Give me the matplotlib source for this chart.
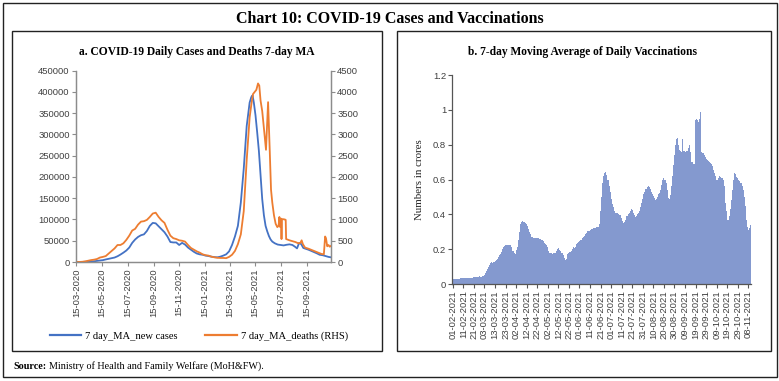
import numpy as np
import pandas as pd
import matplotlib
matplotlib.use('Agg')
import matplotlib.pyplot as plt
from matplotlib.patches import Rectangle

# ---- panel a: 7-day MA of new cases and deaths (weekly points, Sundays from 15-03-2020)
week_start = '2020-03-15'
cases_weekly = [100, 60, 150, 500, 850, 1300, 1700, 2600, 3500, 4300,
                6000, 7500, 9000, 10500, 13500, 17500, 22000, 27000, 34000, 45000,
                53000, 59000, 63000, 65000, 73000, 85000, 92000, 91000, 84000, 77000,
                70000, 60000, 47000, 46000, 46000, 40000, 45000, 41000, 34000, 29000,
                24000, 20000, 18000, 17000, 15000, 14000, 12500, 11500, 11000, 12500,
                15000, 18000, 25000, 40000, 60000, 85000, 140000, 220000, 320000, 375000]
deaths_weekly = [0, 1, 5, 15, 30, 45, 55, 70, 105, 120,
                 140, 200, 260, 320, 400, 400, 440, 520, 620, 740,
                 780, 880, 950, 960, 990, 1060, 1140, 1160, 1060, 980,
                 920, 760, 620, 560, 540, 510, 500, 480, 400, 330,
                 290, 250, 220, 180, 160, 150, 125, 110, 100, 95,
                 95, 90, 120, 170, 260, 420, 650, 1200, 2400, 3400]

# later period read at finer spacing
cases_tail_dates = ['2021-05-06', '2021-05-09', '2021-05-12', '2021-05-16', '2021-05-20',
                    '2021-05-24', '2021-05-28', '2021-06-01', '2021-06-05', '2021-06-09',
                    '2021-06-13', '2021-06-17', '2021-06-21', '2021-06-25', '2021-07-01',
                    '2021-07-08', '2021-07-15', '2021-07-22', '2021-07-29', '2021-08-05',
                    '2021-08-12', '2021-08-18', '2021-08-23', '2021-08-28', '2021-09-02',
                    '2021-09-07', '2021-09-13', '2021-09-19', '2021-09-25', '2021-10-02',
                    '2021-10-09', '2021-10-16', '2021-10-23', '2021-10-30', '2021-11-06',
                    '2021-11-12']
cases_tail = [388000, 392000, 375000, 345000, 305000,
              262000, 205000, 148000, 110000, 85000,
              72000, 61000, 53000, 48000, 44000,
              41000, 40000, 39000, 40500, 41500,
              40000, 36000, 32000, 45000, 42000,
              33000, 31000, 29000, 26500, 23500,
              20500, 17000, 16000, 14000, 12000,
              11000]

deaths_tail_dates = ['2021-05-06', '2021-05-10', '2021-05-14', '2021-05-18', '2021-05-22',
                     '2021-05-25', '2021-05-28', '2021-06-01', '2021-06-05', '2021-06-10',
                     '2021-06-15', '2021-06-19', '2021-06-22', '2021-06-25', '2021-06-29',
                     '2021-07-03', '2021-07-07', '2021-07-10', '2021-07-12', '2021-07-14',
                     '2021-07-16', '2021-07-17', '2021-07-18', '2021-07-19', '2021-07-25',
                     '2021-07-27', '2021-07-28', '2021-08-05', '2021-08-12', '2021-08-19',
                     '2021-08-26', '2021-08-31', '2021-09-03', '2021-09-06', '2021-09-11',
                     '2021-09-20', '2021-09-30', '2021-10-10', '2021-10-20', '2021-10-26',
                     '2021-10-29', '2021-10-31', '2021-11-03', '2021-11-06', '2021-11-09',
                     '2021-11-12']
deaths_tail = [3700, 3950, 4000, 4050, 4200,
               4150, 3800, 3550, 3150, 2640,
               3760, 2600, 1700, 1400, 1100,
               900, 820, 850, 1060, 820,
               1020, 540, 1000, 1010, 1000,
               990, 540, 510, 490, 470,
               440, 450, 510, 420, 340,
               310, 270, 230, 190, 180,
               600, 560, 370, 400, 360,
               380]

# ---- panel b: 7-day MA of daily vaccinations (crore), daily from 01-02-2021
vacc_start = '2021-02-01'
vacc = [0.029, 0.029, 0.030, 0.030, 0.031, 0.030, 0.029, 0.032, 0.034, 0.034,
        0.035, 0.035, 0.034, 0.035, 0.036, 0.035, 0.034, 0.033, 0.034, 0.036,
        0.038, 0.040, 0.041, 0.042, 0.043, 0.044, 0.043, 0.042, 0.044, 0.046,
        0.052, 0.062, 0.072, 0.085, 0.098, 0.110, 0.120, 0.125, 0.122, 0.126,
        0.130, 0.135, 0.145, 0.155, 0.165, 0.172, 0.185, 0.200, 0.212, 0.218,
        0.222, 0.225, 0.226, 0.224, 0.222, 0.223, 0.210, 0.190, 0.178, 0.175,
        0.195, 0.215, 0.250, 0.300, 0.345, 0.356, 0.360, 0.358, 0.355, 0.352,
        0.345, 0.332, 0.315, 0.300, 0.285, 0.272, 0.265, 0.262, 0.263, 0.265,
        0.264, 0.262, 0.260, 0.258, 0.255, 0.250, 0.245, 0.238, 0.232, 0.225,
        0.210, 0.192, 0.180, 0.176, 0.175, 0.178, 0.176, 0.180, 0.190, 0.200,
        0.205, 0.198, 0.190, 0.180, 0.176, 0.165, 0.150, 0.138, 0.142, 0.175,
        0.180, 0.182, 0.190, 0.200, 0.212, 0.208, 0.215, 0.228, 0.237, 0.240,
        0.245, 0.250, 0.255, 0.262, 0.268, 0.275, 0.285, 0.295, 0.302, 0.305,
        0.310, 0.315, 0.318, 0.320, 0.322, 0.324, 0.325, 0.326, 0.330, 0.345,
        0.420, 0.500, 0.580, 0.618, 0.635, 0.642, 0.625, 0.600, 0.565, 0.530,
        0.490, 0.460, 0.440, 0.420, 0.410, 0.406, 0.405, 0.400, 0.398, 0.395,
        0.380, 0.360, 0.350, 0.355, 0.370, 0.388, 0.400, 0.410, 0.420, 0.430,
        0.425, 0.410, 0.395, 0.387, 0.392, 0.400, 0.405, 0.420, 0.440, 0.464,
        0.490, 0.515, 0.530, 0.545, 0.555, 0.560, 0.555, 0.545, 0.530, 0.515,
        0.505, 0.495, 0.485, 0.490, 0.500, 0.515, 0.521, 0.540, 0.570, 0.595,
        0.607, 0.600, 0.580, 0.540, 0.495, 0.490, 0.510, 0.560, 0.620, 0.684,
        0.740, 0.800, 0.830, 0.837, 0.800, 0.770, 0.765, 0.760, 0.830, 0.765,
        0.760, 0.762, 0.765, 0.780, 0.800, 0.760, 0.703, 0.700, 0.690, 0.690,
        0.943, 0.945, 0.940, 0.930, 0.950, 0.985, 0.760, 0.750, 0.740, 0.730,
        0.720, 0.712, 0.705, 0.700, 0.694, 0.690, 0.680, 0.655, 0.640, 0.620,
        0.598, 0.600, 0.610, 0.620, 0.615, 0.608, 0.600, 0.560, 0.464, 0.420,
        0.368, 0.370, 0.390, 0.430, 0.480, 0.540, 0.600, 0.636, 0.630, 0.615,
        0.608, 0.600, 0.590, 0.580, 0.560, 0.540, 0.500, 0.450, 0.370, 0.330,
        0.310, 0.320, 0.340]

BLUE = '#4472C4'
ORANGE = '#ED7D31'
BAR = '#8499cf'
TICK_C = '#404040'
SPINE_C = '#8c8c8c'
SERIF = 'Liberation Serif'
SANS = 'Liberation Sans'

W, H = 779, 381
fig = plt.figure(figsize=(W / 100, H / 100), dpi=100)


def fbox(x0, y0, x1, y1):
    """pixel box (top-left origin) -> figure fraction [l, b, w, h]"""
    return [x0 / W, 1 - y1 / H, (x1 - x0) / W, (y1 - y0) / H]


# frames
for (x0, y0, x1, y1) in [(3, 3, 777, 377), (12, 31, 382, 351), (397, 31, 771, 351)]:
    l, b, w, h = fbox(x0, y0, x1, y1)
    fig.patches.append(Rectangle((l, b), w, h, transform=fig.transFigure,
                                 fill=False, edgecolor='#222222', lw=1.0))

fig.text(390 / W, 1 - 19 / H, 'Chart 10: COVID-19 Cases and Vaccinations',
         ha='center', va='center', fontsize=11.5, fontweight='bold', family=SERIF)
fig.text(197 / W, 1 - 52 / H, 'a. COVID-19 Daily Cases and Deaths 7-day MA',
         ha='center', va='center', fontsize=8.3, fontweight='bold', family=SERIF)
fig.text(582 / W, 1 - 52 / H, 'b. 7-day Moving Average of Daily Vaccinations',
         ha='center', va='center', fontsize=8.3, fontweight='bold', family=SERIF)
fig.text(13 / W, 1 - 369 / H, 'Source:', ha='left', va='baseline', fontsize=7.3,
         fontweight='bold', family=SERIF)
fig.text(49 / W, 1 - 369 / H, 'Ministry of Health and Family Welfare (MoH&FW).',
         ha='left', va='baseline', fontsize=7.3, family=SERIF)

# ---- panel a
case_dates = list(pd.date_range(week_start, periods=len(cases_weekly), freq='7D'))
case_dates += list(pd.to_datetime(cases_tail_dates))
case_vals = cases_weekly + cases_tail
death_dates = list(pd.date_range(week_start, periods=len(deaths_weekly), freq='7D'))
death_dates += list(pd.to_datetime(deaths_tail_dates))
death_vals = deaths_weekly + deaths_tail

ax = fig.add_axes(fbox(76, 70.7, 331, 262))
ax2 = ax.twinx()
l1, = ax.plot(case_dates, case_vals, color=BLUE, lw=1.3)
l2, = ax2.plot(death_dates, death_vals, color=ORANGE, lw=1.3)
ax.set_xlim(pd.Timestamp('2020-03-14'), pd.Timestamp('2021-11-12'))
ax.set_ylim(0, 450000)
ax2.set_ylim(0, 4500)
ax.set_yticks(np.arange(0, 450001, 50000))
ax2.set_yticks(np.arange(0, 4501, 500))
xt = pd.date_range('2020-03-01', '2021-09-30', freq='2MS') + pd.Timedelta(days=14)
ax.set_xticks(xt)
ax.set_xticklabels([d.strftime('%d-%m-%Y') for d in xt], rotation=90)
for a in (ax, ax2):
    a.spines['top'].set_visible(False)
    for s in ('left', 'right', 'bottom'):
        a.spines[s].set_color(SPINE_C)
        a.spines[s].set_linewidth(0.9)
    a.tick_params(colors=SPINE_C, labelcolor=TICK_C, labelsize=6.8, length=3,
                  width=0.8, pad=1.5)
    for t in a.get_xticklabels() + a.get_yticklabels():
        t.set_family(SANS)

leg = ax.legend([l1, l2], ['7 day_MA_new cases', '7 day_MA_deaths (RHS)'],
                loc='center', bbox_to_anchor=(199 / W, 1 - 336 / H),
                bbox_transform=fig.transFigure, ncol=2, frameon=False,
                handlelength=3.0, columnspacing=2.6, handletextpad=0.4,
                prop={'family': SERIF, 'size': 7.6})
for line in leg.get_lines():
    line.set_linewidth(1.6)

# ---- panel b
vdates = pd.date_range(vacc_start, periods=len(vacc), freq='D')
bx = fig.add_axes(fbox(452.3, 75, 751, 284))
bx.bar(np.arange(len(vacc)), vacc, width=1.0, color=BAR, linewidth=0)
bx.set_xlim(-0.5, len(vacc) - 0.5)
bx.set_ylim(0, 1.2)
bx.set_yticks([0, 0.2, 0.4, 0.6, 0.8, 1.0, 1.2])
bx.set_yticklabels(['0', '0.2', '0.4', '0.6', '0.8', '1', '1.2'])
idx = np.arange(0, len(vacc), 10)
bx.set_xticks(idx)
bx.set_xticklabels([vdates[i].strftime('%d-%m-%Y') for i in idx], rotation=90)
bx.spines['top'].set_visible(False)
bx.spines['right'].set_visible(False)
for s in ('left', 'bottom'):
    bx.spines[s].set_color('#555555')
    bx.spines[s].set_linewidth(0.9)
bx.tick_params(colors='#555555', labelcolor=TICK_C, labelsize=6.8, length=3,
               width=0.8, pad=1.5)
for t in bx.get_xticklabels() + bx.get_yticklabels():
    t.set_family(SANS)
bx.set_ylabel('Numbers in crores', family=SERIF, fontsize=7.8, color='#222222',
              labelpad=6)

fig.savefig('out.png', dpi=100)
